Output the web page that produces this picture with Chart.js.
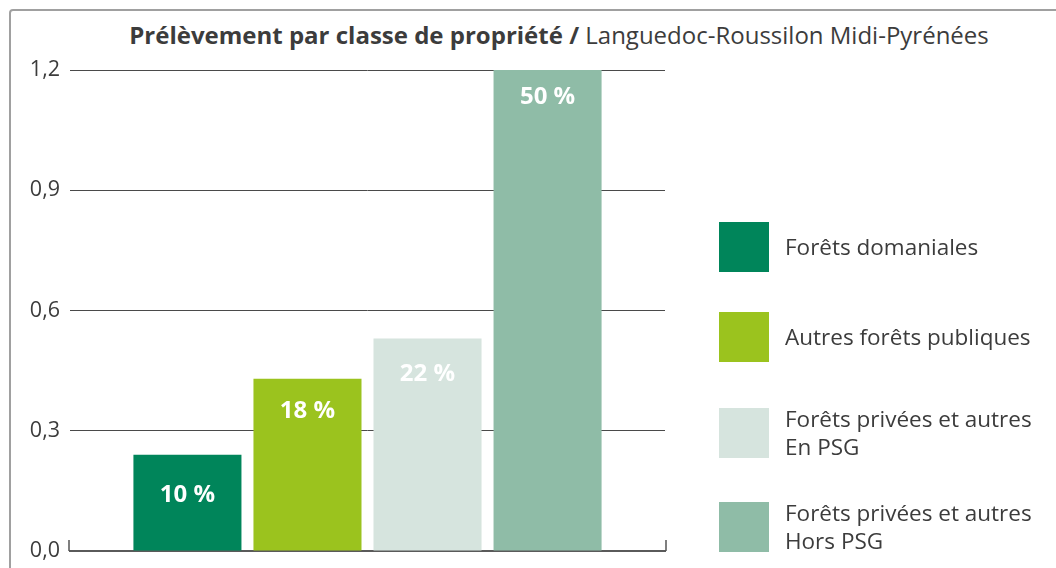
<!DOCTYPE html>
<html lang="fr">
<head>
<meta charset="utf-8">
<script src="https://cdn.jsdelivr.net/npm/chart.js@4.4.0/dist/chart.umd.min.js"></script>
<style>
  html, body { margin: 0; padding: 0; background: #fff; }
  body { width: 1056px; height: 568px; position: relative; overflow: hidden; font-family: "Open Sans", sans-serif; color: #3c3c3c; }
  .frame { position: absolute; left: 9px; top: 9px; width: 1100px; height: 600px; border: 2px solid #a0a0a0; border-radius: 4px; box-sizing: border-box; }
  .title { position: absolute; top: 18px; left: 0; width: 1118px; text-align: center; font-size: 24px; white-space: nowrap; }
  .title b { font-weight: 700; }
  #chart { position: absolute; left: 0; top: 0; }
  .legend { position: absolute; left: 719px; top: 222px; }
  .legend .item { position: absolute; left: 0; width: 330px; height: 50px; }
  .legend .box { position: absolute; left: 0; top: 0; width: 50px; height: 50px; }
  .legend .txt { position: absolute; left: 66px; top: 50%; transform: translateY(-50%); font-size: 22.5px; line-height: 28px; white-space: nowrap; }
</style>
</head>
<body>
<div class="frame"></div>
<div class="title"><b>Prélèvement par classe de propriété /</b> Languedoc-Roussilon Midi-Pyrénées</div>
<canvas id="chart" width="1056" height="568"></canvas>
<div class="legend" id="legend"></div>
<script>
const categories = ['Forêts domaniales', 'Autres forêts publiques', 'Forêts privées et autres\nEn PSG', 'Forêts privées et autres\nHors PSG'];
const values = [0.24, 0.43, 0.53, 1.2];
const shares = ['10 %', '18 %', '22 %', '50 %'];
const colors = ['#00855a', '#9bc31e', '#d6e4de', '#8fbca7'];
const yTicks = [0, 0.3, 0.6, 0.9, 1.2];

// legend rows, top positions relative to the legend block
const legendTops = [0, 90, 186, 280];
const legend = document.getElementById('legend');
categories.forEach((name, i) => {
    const item = document.createElement('div');
    item.className = 'item';
    item.style.top = legendTops[i] + 'px';
    item.innerHTML = '<div class="box" style="background:' + colors[i] + '"></div>' +
        '<div class="txt">' + name.replace('\n', '<br>') + '</div>';
    legend.appendChild(item);
});

// white percentage labels near the top of each bar
const labelOffsets = [40, 33, 36, 27];
const shareLabels = {
    id: 'shareLabels',
    afterDatasetsDraw(chart) {
        const ctx = chart.ctx;
        ctx.save();
        ctx.fillStyle = '#ffffff';
        ctx.font = 'bold 24px "Open Sans", sans-serif';
        ctx.textAlign = 'center';
        ctx.textBaseline = 'middle';
        chart.data.datasets.forEach((ds, i) => {
            const bar = chart.getDatasetMeta(i).data[0];
            ctx.fillText(shares[i], bar.x, bar.y + labelOffsets[i]);
        });
        ctx.restore();
    }
};

// small upward ticks at both ends of the baseline
const baseTicks = {
    id: 'baseTicks',
    afterDraw(chart) {
        const { left, right, bottom } = chart.chartArea;
        const ctx = chart.ctx;
        ctx.save();
        ctx.strokeStyle = '#555555';
        ctx.lineWidth = 1.5;
        ctx.beginPath();
        ctx.moveTo(left - 1, bottom);
        ctx.lineTo(left - 1, bottom - 11);
        ctx.moveTo(right + 1, bottom);
        ctx.lineTo(right + 1, bottom - 11);
        ctx.stroke();
        ctx.restore();
    }
};

const ctx = document.getElementById('chart').getContext('2d');
new Chart(ctx, {
    type: 'bar',
    data: {
        labels: [''],
        datasets: categories.map((name, i) => ({
            label: name,
            data: [values[i]],
            backgroundColor: colors[i],
            borderWidth: 0,
            barPercentage: 0.9,
            categoryPercentage: 0.807
        }))
    },
    options: {
        responsive: false,
        animation: false,
        layout: { padding: { top: 70, right: 391, bottom: 17, left: 0 } },
        plugins: {
            legend: { display: false },
            tooltip: { enabled: false }
        },
        scales: {
            x: {
                grid: { display: false },
                ticks: { display: false },
                border: { color: '#5a5a5a', width: 2 },
                afterFit: s => { s.height = 0; }
            },
            y: {
                min: 0,
                max: 1.2,
                afterBuildTicks: s => { s.ticks = yTicks.map(v => ({ value: v })); },
                afterFit: s => { s.width = 70; s.paddingTop = 0; s.paddingBottom = 0; },
                ticks: {
                    padding: 10,
                    color: '#3c3c3c',
                    font: { family: '"Open Sans", sans-serif', size: 21.5 },
                    callback: v => v.toFixed(1).replace('.', ',')
                },
                grid: { color: '#4a4a4a', lineWidth: 1, drawTicks: false },
                border: { display: false }
            }
        }
    },
    plugins: [shareLabels, baseTicks]
});
</script>
</body>
</html>
